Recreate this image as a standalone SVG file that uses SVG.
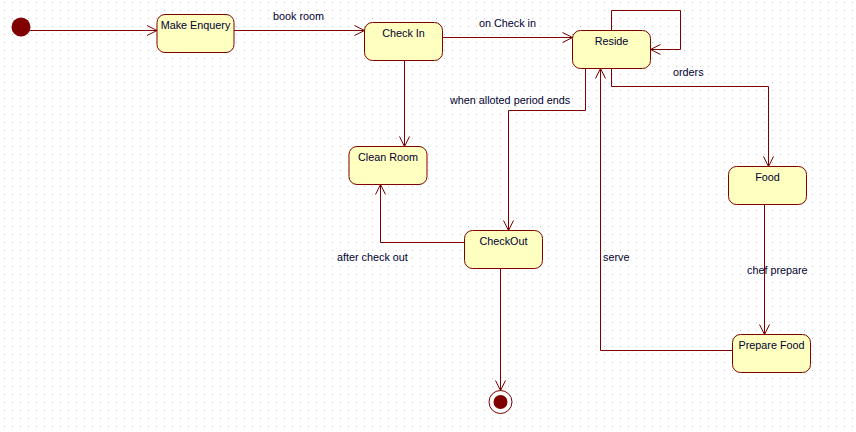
<svg xmlns="http://www.w3.org/2000/svg" width="856" height="432" viewBox="0 0 856 432">
<defs>
<pattern id="grid" width="8" height="8" patternUnits="userSpaceOnUse" x="0" y="0">
<rect x="4" y="2" width="1" height="1" fill="#c4c4c4"/>
</pattern>
<marker id="arr" viewBox="0 0 12 12" refX="11" refY="6" markerWidth="12" markerHeight="12" markerUnits="userSpaceOnUse" orient="auto">
<path d="M1,1 L11,6 L1,11" fill="none" stroke="#800000" stroke-width="1"/>
</marker>
</defs>
<style>
.st rect{fill:#ffffc0;stroke:#800000;stroke-width:1}
text{font-family:"Liberation Sans",Arial,sans-serif;font-size:10.8px;fill:#000033}
.st text{text-anchor:middle}
.c path{fill:none;stroke:#800000;stroke-width:1;marker-end:url(#arr)}
</style>
<rect width="856" height="432" fill="#ffffff"/>
<rect width="856" height="432" fill="url(#grid)"/>

<g id="initial"><circle cx="21" cy="27" r="9.5" fill="#800000"/></g>
<g id="final">
<circle cx="500.5" cy="402" r="11.5" fill="#ffffff" stroke="#800000" stroke-width="1"/>
<circle cx="500.5" cy="402" r="7" fill="#800000"/>
</g>
<g id="make-enquery" class="st"><rect x="157" y="14.5" width="77" height="38" rx="8"/><text x="195.5" y="29">Make Enquery</text></g>
<g id="check-in" class="st"><rect x="364.5" y="22.5" width="78" height="38" rx="8"/><text x="403.5" y="37">Check In</text></g>
<g id="reside" class="st"><rect x="572.5" y="30.5" width="78" height="38" rx="8"/><text x="611.5" y="45">Reside</text></g>
<g id="clean-room" class="st"><rect x="349" y="146.5" width="78" height="38" rx="8"/><text x="388" y="161">Clean Room</text></g>
<g id="checkout" class="st"><rect x="464.5" y="230.5" width="78" height="38" rx="8"/><text x="503.5" y="245">CheckOut</text></g>
<g id="food" class="st"><rect x="728.5" y="166.5" width="78" height="38" rx="8"/><text x="767.5" y="181">Food</text></g>
<g id="prepare-food" class="st"><rect x="732.5" y="334.5" width="78" height="38" rx="8"/><text x="771.5" y="349">Prepare Food</text></g>

<g id="connectors" class="c">
<path d="M30,30.5 H157"/>
<path d="M234,30.5 H364.5"/>
<path d="M442.5,37.5 H572.5"/>
<path d="M611.5,30.5 V10.5 H680.5 V49.5 H650.5"/>
<path d="M611.5,68.5 V86.5 H768.5 V166.5"/>
<path d="M764.5,204.5 V334.5"/>
<path d="M732.5,350.5 H600.5 V68.5"/>
<path d="M585.5,68.5 V110.5 H508.5 V230.5"/>
<path d="M404.5,60.5 V146.5"/>
<path d="M464.5,242.5 H380.5 V184.5"/>
<path d="M500.5,268.5 V390.5"/>
</g>
<g id="labels">
<text x="273" y="20">book room</text>
<text x="479" y="27">on Check in</text>
<text x="673" y="76">orders</text>
<text x="450" y="104">when alloted period ends</text>
<text x="747" y="274">chef prepare</text>
<text x="603" y="261">serve</text>
<text x="337" y="261">after check out</text>
</g>
</svg>
